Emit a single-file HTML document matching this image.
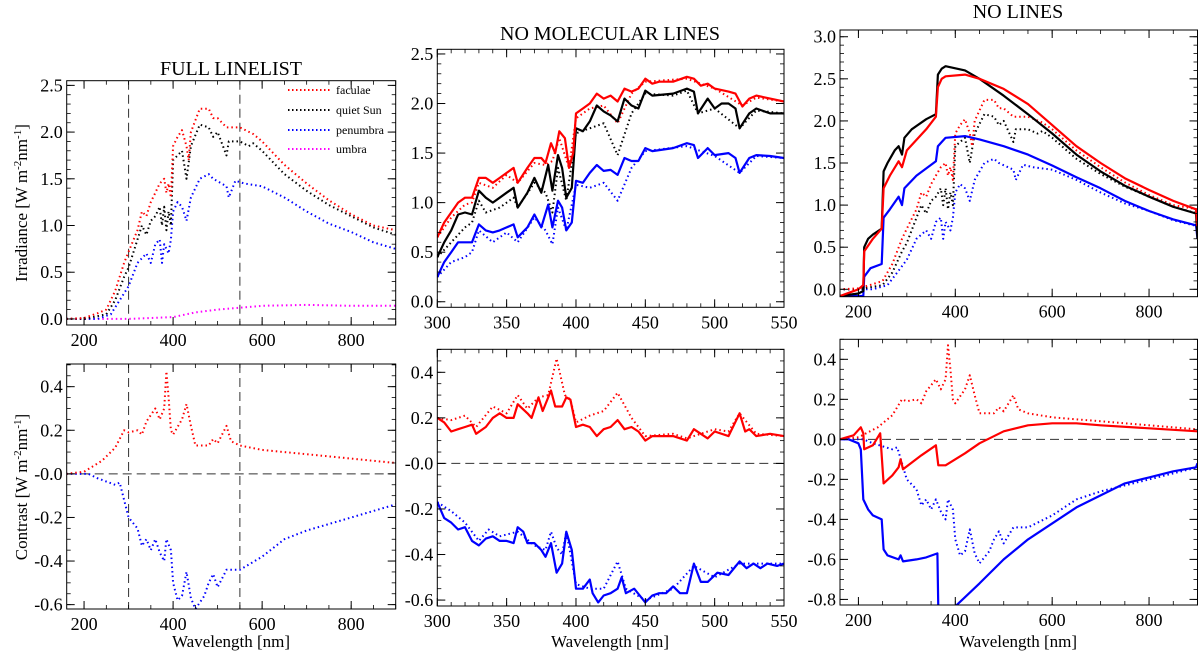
<!DOCTYPE html>
<html><head><meta charset="utf-8"><style>
html,body{margin:0;padding:0;background:#fff;}
svg{display:block;}
svg text{font-family:"Liberation Serif","DejaVu Serif",serif;}
</style></head><body>
<svg id="fig" width="1200" height="657" viewBox="0 0 1200 657" font-family="Liberation Serif, serif">
<text x="231" y="75" font-size="20" text-anchor="middle">FULL LINELIST</text>
<text x="610" y="40" font-size="20" text-anchor="middle">NO MOLECULAR LINES</text>
<text x="1018" y="18" font-size="20" text-anchor="middle">NO LINES</text>
<text transform="translate(27,203) rotate(-90)" font-size="17" text-anchor="middle">Irradiance [W m<tspan dy="-6" font-size="11">-2</tspan><tspan dy="6">nm</tspan><tspan dy="-6" font-size="11">-1</tspan><tspan dy="6">]</tspan></text>
<text transform="translate(27,487) rotate(-90)" font-size="17" text-anchor="middle">Contrast [W m<tspan dy="-6" font-size="11">-2</tspan><tspan dy="6">nm</tspan><tspan dy="-6" font-size="11">-1</tspan><tspan dy="6">]</tspan></text>
<text x="231" y="647" font-size="17" text-anchor="middle">Wavelength [nm]</text>
<text x="610" y="647" font-size="17" text-anchor="middle">Wavelength [nm]</text>
<text x="1018" y="647" font-size="17" text-anchor="middle">Wavelength [nm]</text>
<g>
<line x1="288" y1="90" x2="330" y2="90" stroke="#f00" stroke-width="2" stroke-dasharray="1.5 2.5"/>
<text x="336" y="94" font-size="12">faculae</text>
<line x1="288" y1="110" x2="330" y2="110" stroke="#000" stroke-width="2" stroke-dasharray="1.5 2.5"/>
<text x="336" y="114" font-size="12">quiet Sun</text>
<line x1="288" y1="130" x2="330" y2="130" stroke="#00f" stroke-width="2" stroke-dasharray="1.5 2.5"/>
<text x="336" y="134" font-size="12">penumbra</text>
<line x1="288" y1="149" x2="330" y2="149" stroke="#f0f" stroke-width="2" stroke-dasharray="1.5 2.5"/>
<text x="336" y="153" font-size="12">umbra</text>
</g>
</svg>
<script>
const facIrr=[[160,0],[200,0.01],[230,0.06],[250,0.1],[270,0.3],[290,0.6],[300,0.72],[320,0.95],[330,1.15],[340,1.1],[350,1.25],[360,1.35],[370,1.45],[380,1.5],[385,1.35],[390,1.45],[395,1.3],[400,1.85],[410,1.95],[420,2.02],[430,1.85],[435,1.7],[440,2.0],[460,2.25],[480,2.25],[490,2.15],[500,2.15],[520,2.05],[550,2.05],[580,1.98],[600,1.9],[650,1.65],[700,1.45],[750,1.27],[800,1.12],[850,1.0],[900,0.95]];
const qsIrr=[[160,0],[200,0],[250,0.05],[270,0.2],[290,0.45],[300,0.55],[320,0.85],[330,1.0],[340,0.9],[350,1.05],[360,1.1],[370,1.2],[375,1.0],[380,1.2],[385,0.95],[390,1.15],[395,1.0],[400,1.7],[410,1.75],[420,1.8],[430,1.5],[440,1.85],[460,2.08],[480,2.05],[490,1.95],[500,2.0],[520,1.75],[525,1.9],[550,1.9],[570,1.85],[580,1.88],[600,1.8],[650,1.55],[700,1.37],[750,1.22],[800,1.1],[850,0.98],[900,0.9]];
const penIrr=[[160,0],[230,0],[260,0.05],[280,0.2],[300,0.35],[320,0.6],[340,0.7],[350,0.6],[360,0.8],[370,0.85],[375,0.6],[380,0.8],[390,0.7],[395,0.85],[400,1.15],[410,1.25],[420,1.2],[430,1.05],[440,1.3],[460,1.5],[480,1.55],[490,1.5],[520,1.42],[525,1.3],[540,1.48],[560,1.45],[600,1.42],[650,1.3],[700,1.15],[750,1.02],[800,0.93],[850,0.82],[900,0.75]];
const umbIrr=[[160,0],[300,0],[400,0.02],[450,0.07],[500,0.1],[550,0.12],[600,0.14],[700,0.15],[800,0.14],[900,0.14]];
const facCon=[[160,0],[200,0.01],[240,0.06],[270,0.12],[290,0.2],[300,0.19],[320,0.2],[330,0.18],[340,0.24],[360,0.3],[370,0.25],[380,0.3],[385,0.47],[390,0.35],[395,0.2],[400,0.18],[420,0.25],[430,0.32],[440,0.22],[450,0.13],[480,0.13],[490,0.16],[500,0.14],[520,0.22],[530,0.15],[550,0.13],[600,0.11],[650,0.1],[700,0.09],[800,0.07],[900,0.05]];
const penCon=[[160,0],[210,0],[230,-0.02],[270,-0.05],[280,-0.04],[290,-0.12],[300,-0.2],[320,-0.25],[330,-0.33],[340,-0.3],[350,-0.35],[360,-0.3],[370,-0.36],[380,-0.4],[385,-0.3],[395,-0.35],[400,-0.5],[410,-0.58],[420,-0.56],[430,-0.45],[440,-0.57],[450,-0.62],[470,-0.56],[480,-0.5],[490,-0.46],[500,-0.52],[520,-0.44],[550,-0.44],[600,-0.38],[650,-0.3],[700,-0.26],[800,-0.2],[900,-0.14]];
const facNM=[[300,0.65],[305,0.8],[310,0.9],[315,1.0],[320,1.05],[325,1.05],[330,1.25],[335,1.25],[340,1.2],[345,1.25],[350,1.3],[355,1.35],[358,1.2],[365,1.35],[370,1.45],[375,1.45],[378,1.4],[382,1.6],[385,1.5],[388,1.72],[392,1.65],[395,1.35],[398,1.5],[400,1.9],[405,1.95],[410,2.0],[415,2.1],[420,2.05],[425,2.08],[430,2.02],[435,2.15],[440,2.12],[445,2.15],[450,2.25],[455,2.2],[460,2.22],[470,2.22],[480,2.27],[485,2.25],[490,2.18],[495,2.2],[500,2.15],[510,2.12],[515,2.1],[520,1.97],[525,2.05],[530,2.08],[540,2.05],[550,2.02]];
const facNMdot=[[300,0.65],[310,0.85],[320,0.98],[325,1.0],[330,1.2],[340,1.15],[350,1.28],[358,1.2],[370,1.4],[378,1.38],[383,1.42],[388,1.65],[395,1.35],[400,1.85],[410,1.95],[420,1.98],[430,1.8],[440,2.1],[450,2.22],[480,2.25],[500,2.15],[520,1.98],[530,2.06],[550,2.02]];
const qsNM=[[300,0.45],[305,0.6],[310,0.72],[315,0.88],[320,0.9],[325,0.88],[330,1.12],[335,1.05],[340,1.0],[345,1.05],[350,1.1],[355,1.15],[358,0.95],[365,1.1],[370,1.25],[375,1.1],[380,1.38],[383,1.12],[387,1.48],[390,1.35],[393,1.05],[397,1.15],[400,1.75],[405,1.72],[410,1.82],[415,1.98],[420,1.92],[425,1.88],[430,1.82],[435,2.05],[440,1.98],[445,1.95],[450,2.13],[455,2.08],[470,2.1],[480,2.15],[485,2.12],[488,1.9],[495,2.05],[500,1.95],[505,2.0],[510,2.0],[515,1.95],[518,1.75],[525,1.9],[530,1.95],[540,1.9],[550,1.9]];
const qsNMdot=[[300,0.45],[310,0.6],[320,0.75],[325,0.8],[330,1.02],[335,0.9],[345,0.95],[355,1.05],[358,0.95],[370,1.2],[378,1.1],[383,0.9],[387,1.35],[393,1.02],[400,1.7],[410,1.75],[420,1.8],[430,1.48],[440,1.9],[450,2.1],[470,2.08],[480,2.13],[488,1.9],[500,1.95],[518,1.75],[530,1.93],[550,1.9]];
const penNM=[[300,0.25],[305,0.4],[310,0.5],[315,0.6],[320,0.6],[325,0.6],[330,0.78],[335,0.72],[340,0.7],[345,0.72],[350,0.75],[355,0.78],[358,0.65],[365,0.75],[370,0.88],[375,0.75],[380,0.98],[383,0.75],[387,1.02],[390,0.95],[393,0.72],[397,0.8],[400,1.22],[405,1.2],[410,1.3],[415,1.38],[420,1.32],[425,1.33],[430,1.28],[435,1.45],[440,1.42],[445,1.42],[450,1.55],[455,1.52],[470,1.55],[480,1.6],[485,1.58],[488,1.45],[495,1.55],[500,1.48],[510,1.5],[515,1.45],[518,1.3],[525,1.45],[530,1.48],[540,1.47],[550,1.45]];
const penNMdot=[[300,0.25],[310,0.4],[320,0.45],[325,0.5],[330,0.72],[340,0.6],[350,0.7],[358,0.6],[370,0.85],[378,0.72],[383,0.58],[387,0.95],[393,0.72],[400,1.18],[410,1.15],[420,1.2],[430,1.02],[440,1.35],[450,1.52],[480,1.57],[500,1.47],[518,1.3],[530,1.47],[550,1.45]];
const facNMcon=[[300,0.2],[305,0.18],[310,0.14],[315,0.15],[320,0.16],[325,0.17],[328,0.13],[335,0.16],[340,0.2],[345,0.22],[350,0.2],[355,0.2],[358,0.26],[365,0.22],[368,0.2],[373,0.29],[376,0.23],[382,0.32],[385,0.25],[390,0.25],[393,0.29],[396,0.28],[400,0.16],[405,0.17],[410,0.16],[415,0.12],[420,0.15],[425,0.16],[430,0.19],[435,0.15],[440,0.16],[445,0.14],[450,0.1],[455,0.12],[470,0.12],[480,0.1],[485,0.15],[490,0.13],[495,0.11],[500,0.14],[510,0.12],[518,0.22],[522,0.14],[525,0.15],[530,0.12],[540,0.13],[550,0.12]];
const facNMconDot=[[300,0.2],[310,0.19],[320,0.21],[328,0.16],[340,0.25],[350,0.22],[358,0.3],[365,0.24],[373,0.29],[380,0.3],[386,0.46],[392,0.3],[396,0.28],[400,0.18],[410,0.21],[420,0.23],[430,0.31],[440,0.2],[450,0.12],[470,0.13],[480,0.11],[500,0.15],[510,0.14],[518,0.22],[530,0.13],[550,0.12]];
const penNMcon=[[300,-0.17],[305,-0.24],[310,-0.26],[315,-0.29],[320,-0.28],[325,-0.34],[330,-0.36],[335,-0.33],[340,-0.32],[345,-0.34],[350,-0.34],[355,-0.35],[358,-0.28],[362,-0.3],[365,-0.35],[370,-0.35],[375,-0.38],[378,-0.41],[382,-0.35],[386,-0.48],[390,-0.44],[393,-0.3],[397,-0.38],[400,-0.55],[405,-0.55],[410,-0.51],[412,-0.57],[416,-0.61],[420,-0.58],[425,-0.57],[430,-0.55],[433,-0.5],[436,-0.57],[442,-0.55],[450,-0.61],[455,-0.58],[460,-0.57],[465,-0.57],[470,-0.54],[475,-0.57],[480,-0.57],[485,-0.44],[490,-0.52],[495,-0.52],[502,-0.48],[510,-0.49],[518,-0.43],[523,-0.46],[528,-0.44],[533,-0.46],[538,-0.44],[545,-0.45],[550,-0.44]];
const penNMconDot=[[300,-0.17],[310,-0.21],[320,-0.26],[330,-0.34],[337,-0.29],[345,-0.32],[358,-0.3],[370,-0.36],[378,-0.38],[382,-0.3],[386,-0.37],[390,-0.4],[393,-0.3],[400,-0.53],[410,-0.55],[420,-0.55],[430,-0.43],[436,-0.55],[450,-0.6],[470,-0.55],[485,-0.45],[500,-0.5],[518,-0.44],[550,-0.44]];
const qsNL=[[162,-0.08],[200,-0.05],[210,-0.02],[212,0.5],[220,0.6],[230,0.65],[248,0.72],[252,1.4],[260,1.5],[275,1.65],[283,1.7],[290,1.6],[295,1.8],[310,1.9],[340,2.02],[360,2.08],[364,2.55],[372,2.62],[380,2.65],[420,2.6],[450,2.5],[500,2.3],[550,2.08],[600,1.85],[650,1.6],[700,1.4],[750,1.23],[800,1.1],[850,0.98],[897,0.9],[900,0.6]];
const facNL=[[162,-0.08],[200,0.0],[210,0.05],[212,0.45],[230,0.6],[248,0.72],[252,1.2],[265,1.35],[283,1.52],[290,1.45],[300,1.65],[340,1.9],[360,2.05],[364,2.4],[372,2.5],[380,2.53],[420,2.55],[450,2.5],[500,2.38],[550,2.2],[600,1.95],[650,1.7],[700,1.5],[750,1.32],[800,1.18],[850,1.05],[897,0.95],[900,0.75]];
const penNL=[[162,-0.08],[210,-0.08],[212,0.15],[225,0.25],[248,0.3],[252,0.85],[265,0.95],[283,1.1],[290,1.0],[295,1.2],[320,1.35],[360,1.52],[364,1.7],[372,1.75],[380,1.8],[420,1.82],[450,1.78],[500,1.7],[550,1.6],[600,1.47],[650,1.33],[700,1.2],[750,1.05],[800,0.93],[850,0.83],[897,0.76],[900,0.6]];
const facNLcon=[[162,0],[190,0.02],[205,0.06],[210,0.03],[212,-0.05],[230,-0.03],[245,0.03],[252,-0.22],[270,-0.18],[283,-0.14],[287,-0.1],[292,-0.15],[330,-0.08],[360,-0.03],[365,-0.13],[380,-0.13],[420,-0.07],[450,-0.02],[500,0.04],[550,0.07],[600,0.08],[650,0.08],[700,0.07],[800,0.055],[900,0.04]];
const penNLcon=[[162,0],[180,0],[200,-0.02],[205,-0.05],[210,-0.3],[220,-0.35],[230,-0.38],[248,-0.4],[252,-0.55],[260,-0.58],[283,-0.6],[287,-0.58],[292,-0.61],[320,-0.6],[340,-0.59],[363,-0.57],[366,-1.0],[392,-1.0],[402,-0.83],[450,-0.72],[500,-0.6],[550,-0.5],[600,-0.42],[650,-0.34],[700,-0.28],[750,-0.22],[800,-0.19],[850,-0.16],[897,-0.14],[900,-0.12]];
const xTicksWide=[200,400,600,800];
const xTicksNarrow=[300,350,400,450,500,550];
const yTicksIrr=[0,0.5,1,1.5,2,2.5];
const yTicksIrr3=[0,0.5,1,1.5,2,2.5,3];
const yTicksCon=[-0.6,-0.4,-0.2,0,0.2,0.4];
const yTicksCon3=[-0.8,-0.6,-0.4,-0.2,0,0.2,0.4];

const NS='http://www.w3.org/2000/svg';
const svg=document.getElementById('fig');
const FONT='Liberation Serif, DejaVu Serif, serif';
let clipId=0;
function mk(tag,attrs,parent){const e=document.createElementNS(NS,tag);for(const k in attrs)e.setAttribute(k,attrs[k]);(parent||svg).appendChild(e);return e;}

function panel(name,L,T,R,B,x0,x1,y0,y1,xt,xMinor,yt,yMinor,yFmt,showX){
  const g=mk('g',{});
  
  
  const sx=v=>L+(v-x0)/(x1-x0)*(R-L);
  const sy=v=>B-(v-y0)/(y1-y0)*(B-T);
  const id='clip'+(clipId++);
  const cp=mk('clipPath',{id:id},g);mk('rect',{x:L,y:T,width:R-L,height:B-T},cp);
  const plot=mk('g',{'clip-path':'url(#'+id+')'},g);
  const frame=mk('rect',{x:L,y:T,width:R-L,height:B-T,fill:'none',stroke:'#000','stroke-width':1},g);
  
  
  for(let v=Math.ceil(x0/xMinor)*xMinor;v<=x1+1e-9;v+=xMinor){const X=sx(v);
    mk('line',{x1:X,y1:B,x2:X,y2:B-4,stroke:'#000','stroke-width':0.8},g);mk('line',{x1:X,y1:T,x2:X,y2:T+4,stroke:'#000','stroke-width':0.8},g);}
  for(let v=Math.ceil(y0/yMinor-1e-9)*yMinor;v<=y1+1e-9;v+=yMinor){const Y=sy(v);
    mk('line',{x1:L,y1:Y,x2:L+4,y2:Y,stroke:'#000','stroke-width':0.8},g);mk('line',{x1:R,y1:Y,x2:R-4,y2:Y,stroke:'#000','stroke-width':0.8},g);}
  xt.forEach(v=>{const X=sx(v);
    mk('line',{x1:X,y1:B,x2:X,y2:B-8,stroke:'#000'},g);mk('line',{x1:X,y1:T,x2:X,y2:T+8,stroke:'#000'},g);
    if(showX){const t=mk('text',{x:X,y:B+21,'font-size':18,'text-anchor':'middle','font-family':FONT},g);t.textContent=String(v);
      
      }});
  yt.forEach(v=>{const Y=sy(v);
    mk('line',{x1:L,y1:Y,x2:L+8,y2:Y,stroke:'#000'},g);mk('line',{x1:R,y1:Y,x2:R-8,y2:Y,stroke:'#000'},g);
    const t=mk('text',{x:L-4,y:Y+6,'font-size':18,'text-anchor':'end','font-family':FONT},g);t.textContent=yFmt(v);
    
    });
  return {sx,sy,plot,L,R,T,B};
}
function series(p,data,color,dotted,name){
  const d=data.map((q,i)=>(i?'L':'M')+p.sx(q[0]).toFixed(1)+' '+p.sy(q[1]).toFixed(1)).join(' ');
  const e=mk('path',{d:d,fill:'none',stroke:color,'stroke-width':dotted?2:2.2,'stroke-linejoin':'round'},p.plot);
  if(dotted){e.setAttribute('stroke-dasharray','1.5 3');}
  
  
}
function hdash(p,v){const e=mk('line',{x1:p.L,x2:p.R,y1:p.sy(v),y2:p.sy(v),stroke:'#333','stroke-width':1,'stroke-dasharray':'9 5'},p.plot);
  
  }
function vdash(p,v){const e=mk('line',{x1:p.sx(v),x2:p.sx(v),y1:p.T,y2:p.B,stroke:'#333','stroke-width':1,'stroke-dasharray':'9 5'},p.plot);
  
  }
const f1=v=>v.toFixed(1);
const fNeg0=v=>(Math.abs(v)<1e-9?'-0.0':v.toFixed(1));

let p=panel('panel-irradiance-full',66.7,80.7,395.7,325,161,900,-0.065,2.55,xTicksWide,50,yTicksIrr,0.1,f1,true);
vdash(p,300);vdash(p,550);
series(p,umbIrr,'#f0f',true,'umbra-full');
series(p,penIrr,'#00f',true,'penumbra-full');
series(p,qsIrr,'#000',true,'quiet-sun-full');
series(p,facIrr,'#f00',true,'faculae-full');
p=panel('panel-contrast-full',66.7,364,395.7,609,161,900,-0.62,0.504,xTicksWide,50,yTicksCon,0.05,fNeg0,true);
vdash(p,300);vdash(p,550);hdash(p,0);
series(p,penCon,'#00f',true,'penumbra-contrast-full');
series(p,facCon,'#f00',true,'faculae-contrast-full');
p=panel('panel-irradiance-nomol',437.3,49.3,784,307.3,300,550,-0.056,2.547,xTicksNarrow,10,yTicksIrr,0.1,f1,true);
series(p,penNMdot,'#00f',true,'penumbra-full-dotted');
series(p,qsNMdot,'#000',true,'quiet-sun-full-dotted');
series(p,facNMdot,'#f00',true,'faculae-full-dotted');
series(p,penNM,'#00f',false,'penumbra-nomol');
series(p,qsNM,'#000',false,'quiet-sun-nomol');
series(p,facNM,'#f00',false,'faculae-nomol');
p=panel('panel-contrast-nomol',437.3,349.3,784,606,300,550,-0.626,0.501,xTicksNarrow,10,yTicksCon,0.05,fNeg0,true);
hdash(p,0);
series(p,penNMconDot,'#00f',true,'penumbra-contrast-dotted');
series(p,facNMconDot,'#f00',true,'faculae-contrast-dotted');
series(p,penNMcon,'#00f',false,'penumbra-contrast-nomol');
series(p,facNMcon,'#f00',false,'faculae-contrast-nomol');
p=panel('panel-irradiance-nolines',840,30,1197.5,296.7,162,900,-0.088,3.08,xTicksWide,50,yTicksIrr3,0.1,f1,true);
series(p,penIrr,'#00f',true,'penumbra-full-dotted-3');
series(p,qsIrr,'#000',true,'quiet-sun-full-dotted-3');
series(p,facIrr,'#f00',true,'faculae-full-dotted-3');
series(p,penNL,'#00f',false,'penumbra-nolines');
series(p,qsNL,'#000',false,'quiet-sun-nolines');
series(p,facNL,'#f00',false,'faculae-nolines');
p=panel('panel-contrast-nolines',840,339.3,1197.5,605,162,900,-0.828,0.5,xTicksWide,50,yTicksCon3,0.05,f1,true);
hdash(p,0);
series(p,penCon,'#00f',true,'penumbra-contrast-dotted-3');
series(p,facCon,'#f00',true,'faculae-contrast-dotted-3');
series(p,penNLcon,'#00f',false,'penumbra-contrast-nolines');
series(p,facNLcon,'#f00',false,'faculae-contrast-nolines');
</script>
</body></html>
